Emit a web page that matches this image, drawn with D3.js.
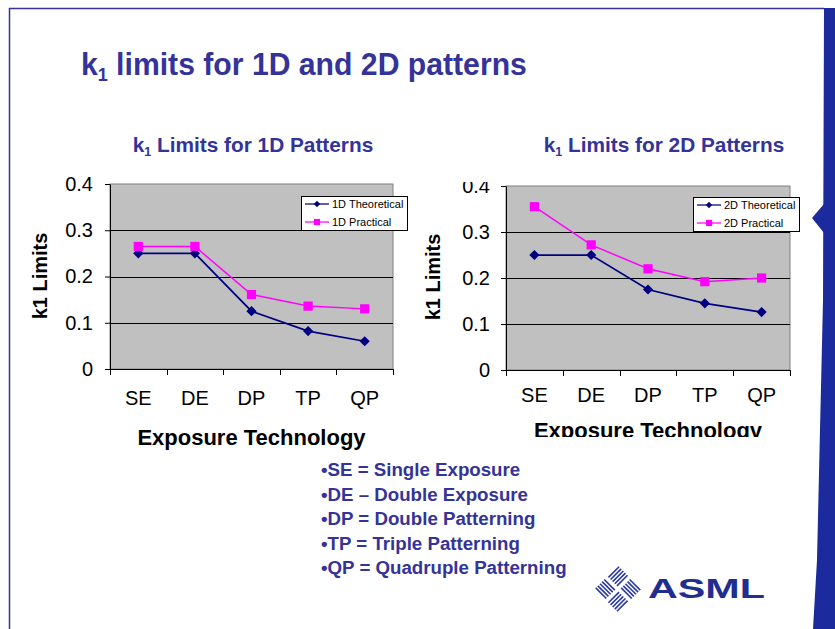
<!DOCTYPE html>
<html>
<head>
<meta charset="utf-8">
<script src="https://cdn.jsdelivr.net/npm/d3@7"></script>
<style>
  html, body { margin: 0; padding: 0; background: #fff; }
  svg { display: block; font-family: "Liberation Sans", Arial, sans-serif; }
</style>
</head>
<body>
<svg id="slide" width="835" height="629"></svg>
<script>
// ---- data ----
const categories = ["SE", "DE", "DP", "TP", "QP"];
const yTickValues = [0, 0.1, 0.2, 0.3, 0.4];
const theoretical1D = [0.25, 0.25, 0.125, 0.082, 0.06];
const practical1D = [0.265, 0.265, 0.161, 0.136, 0.13];
const theoretical2D = [0.25, 0.25, 0.175, 0.145, 0.126];
const practical2D = [0.355, 0.272, 0.22, 0.192, 0.2];
const seriesNames1D = ["1D Theoretical", "1D Practical"];
const seriesNames2D = ["2D Theoretical", "2D Practical"];
const bulletLines = [
  "\u2022SE = Single Exposure",
  "\u2022DE \u2013 Double Exposure",
  "\u2022DP = Double Patterning",
  "\u2022TP = Triple Patterning",
  "\u2022QP = Quadruple Patterning"
];

const slideBlue = "#333399";
const navy = "#000080";
const magenta = "#FF00FF";

const svg = d3.select("#slide");

// ---- slide frame ----
svg.append("line").attr("x1", 9).attr("x2", 824).attr("y1", 8.5).attr("y2", 8.5)
  .attr("stroke", slideBlue).attr("stroke-width", 1.5);
svg.append("line").attr("x1", 9.5).attr("x2", 9.5).attr("y1", 8).attr("y2", 629)
  .attr("stroke", slideBlue).attr("stroke-width", 1.5);
// right-hand band with pointer
svg.append("path")
  .attr("d", "M824,8 L835,8 L835,629 L813,629 L817,560 L823,300 Z")
  .attr("fill", "#1B2A9C");
svg.append("path")
  .attr("d", "M824,204 L812,218 L824,233 Z")
  .attr("fill", "#1B2A9C");

// ---- main title ----
const mainTitle = svg.append("text")
  .attr("transform", "translate(81,75) scale(0.943,1)")
  .attr("fill", slideBlue).attr("font-weight", "bold").attr("font-size", 32);
mainTitle.append("tspan").text("k");
mainTitle.append("tspan").attr("font-size", 19).attr("dy", 6).text("1");
mainTitle.append("tspan").attr("dy", -6).text(" limits for 1D and 2D patterns");

// ---- chart helper ----
function drawChart(cfg) {
  const root = svg.append("g");
  if (cfg.clip) {
    const id = "clip" + cfg.key;
    svg.append("clipPath").attr("id", id).append("rect")
      .attr("x", cfg.clip[0]).attr("y", cfg.clip[1])
      .attr("width", cfg.clip[2]).attr("height", cfg.clip[3]);
    root.attr("clip-path", `url(#${id})`);
  }

  const x = d3.scaleBand().domain(categories).range([cfg.left, cfg.right]);
  const y = d3.scaleLinear().domain([0, 0.4]).range([cfg.bottom, cfg.top]);

  // plot background
  root.append("rect")
    .attr("x", cfg.left).attr("y", cfg.top)
    .attr("width", cfg.right - cfg.left).attr("height", cfg.bottom - cfg.top)
    .attr("fill", "#C0C0C0").attr("stroke", "#808080").attr("stroke-width", 1);

  // gridlines
  root.append("g").selectAll("line")
    .data(yTickValues.filter(v => v > 0 && v < 0.4))
    .join("line")
    .attr("x1", cfg.left).attr("x2", cfg.right)
    .attr("y1", d => Math.round(y(d)) + 0.5).attr("y2", d => Math.round(y(d)) + 0.5)
    .attr("stroke", "#000").attr("stroke-width", 1);

  // y axis
  const yAxis = root.append("g")
    .attr("transform", `translate(${cfg.left},0)`)
    .call(d3.axisLeft(y).tickValues(yTickValues)
      .tickFormat(d => d === 0 ? "0" : d3.format(".1f")(d))
      .tickSize(5).tickSizeOuter(0).tickPadding(cfg.yPad));
  yAxis.select(".domain").attr("stroke", "#000");
  yAxis.selectAll(".tick line").attr("stroke", "#000");
  yAxis.selectAll("text").attr("font-size", 20).attr("fill", "#000")
    .attr("font-family", "Liberation Sans, Arial, sans-serif");

  // x axis: labels centred on bands, tick marks on band edges
  const xAxis = root.append("g")
    .attr("transform", `translate(0,${cfg.bottom})`)
    .call(d3.axisBottom(x).tickSize(0).tickPadding(cfg.xPad));
  xAxis.select(".domain").remove();
  xAxis.selectAll("text").attr("font-size", 20).attr("fill", "#000")
    .attr("font-family", "Liberation Sans, Arial, sans-serif");
  root.append("line")
    .attr("x1", cfg.left).attr("x2", cfg.right)
    .attr("y1", cfg.bottom + 0.5).attr("y2", cfg.bottom + 0.5)
    .attr("stroke", "#000");
  const edges = categories.map(c => x(c)).concat([x(categories[categories.length - 1]) + x.bandwidth()]);
  root.append("g").selectAll("line").data(edges).join("line")
    .attr("x1", d => Math.round(d) + 0.5).attr("x2", d => Math.round(d) + 0.5)
    .attr("y1", cfg.bottom).attr("y2", cfg.bottom + 6)
    .attr("stroke", "#000");

  // series lines
  const cx = c => x(c) + x.bandwidth() / 2;
  const line = d3.line().x((d, i) => cx(categories[i])).y(d => y(d));
  root.append("path").datum(cfg.practical).attr("d", line)
    .attr("fill", "none").attr("stroke", magenta).attr("stroke-width", 1.5);
  root.append("path").datum(cfg.theoretical).attr("d", line)
    .attr("fill", "none").attr("stroke", navy).attr("stroke-width", 1.75);

  const diamond = d3.symbol().type(d3.symbolSquare).size(52);
  const square = d3.symbol().type(d3.symbolSquare).size(85);
  root.append("g").selectAll("path").data(cfg.theoretical).join("path")
    .attr("d", diamond)
    .attr("transform", (d, i) => `translate(${cx(categories[i])},${y(d)}) rotate(45)`)
    .attr("fill", navy);
  root.append("g").selectAll("path").data(cfg.practical).join("path")
    .attr("d", square)
    .attr("transform", (d, i) => `translate(${cx(categories[i])},${y(d)})`)
    .attr("fill", magenta);

  // legend
  const lg = root.append("g").attr("transform", `translate(${cfg.legend[0]},${cfg.legend[1]})`);
  lg.append("rect").attr("x", 0.5).attr("y", 0.5).attr("width", 106).attr("height", 34)
    .attr("fill", "#fff").attr("stroke", "#000").attr("stroke-width", 1);
  const rows = [
    { name: cfg.names[0], color: navy, sym: d3.symbol().type(d3.symbolSquare).size(20), rot: 45 },
    { name: cfg.names[1], color: magenta, sym: d3.symbol().type(d3.symbolSquare).size(38), rot: 0 }
  ];
  rows.forEach((r, i) => {
    const ry = 8 + i * 18;
    lg.append("line").attr("x1", 4).attr("x2", 28).attr("y1", ry).attr("y2", ry)
      .attr("stroke", r.color).attr("stroke-width", 1.25);
    lg.append("path").attr("d", r.sym).attr("fill", r.color)
      .attr("transform", `translate(16,${ry}) rotate(${r.rot})`);
    lg.append("text").attr("x", 31).attr("y", ry + 4)
      .attr("font-size", 11).attr("fill", "#000").text(r.name);
  });

  // axis titles
  root.append("text")
    .attr("x", (cfg.left + cfg.right) / 2).attr("y", cfg.xTitleY)
    .attr("text-anchor", "middle").attr("font-size", 22).attr("font-weight", "bold")
    .attr("fill", "#000").text("Exposure Technology");
  root.append("text")
    .attr("transform", `translate(${cfg.yTitleX},${cfg.yTitleY}) rotate(-90)`)
    .attr("text-anchor", "middle").attr("font-size", 20).attr("font-weight", "bold")
    .attr("fill", "#000").text("k1 Limits");

  // chart title (outside the clipped region)
  const t = svg.append("text")
    .attr("x", cfg.titleX).attr("y", 152)
    .attr("text-anchor", "middle").attr("font-size", 20.8).attr("font-weight", "bold")
    .attr("fill", slideBlue);
  t.append("tspan").text("k");
  t.append("tspan").attr("font-size", 12.5).attr("dy", 4).text("1");
  t.append("tspan").attr("dy", -4).text(" Limits for " + cfg.key + " Patterns");
}

drawChart({
  key: "1D", left: 110, right: 393, top: 184, bottom: 369,
  yPad: 12, xPad: 22, theoretical: theoretical1D, practical: practical1D,
  names: seriesNames1D, legend: [301, 196],
  xTitleY: 445, yTitleX: 47, yTitleY: 276, titleX: 253,
});
drawChart({
  key: "2D", left: 506, right: 790, top: 186, bottom: 370,
  yPad: 11, xPad: 18, theoretical: theoretical2D, practical: practical2D,
  names: seriesNames2D, legend: [693, 197],
  xTitleY: 438, yTitleX: 440, yTitleY: 277, titleX: 664,
  clip: [410, 182, 405, 255]
});

// ---- abbreviation list ----
svg.append("g").selectAll("text").data(bulletLines).join("text")
  .attr("x", 321)
  .attr("y", (d, i) => 476 + i * 24.5)
  .attr("font-size", 18.7).attr("font-weight", "bold").attr("fill", slideBlue)
  .text(d => d);

// ---- ASML mark ----
const logo = svg.append("g").attr("transform", "translate(618,589) rotate(45)");
const q = 15, gap = 1.5, nLines = 5;
[[-1, -1, "v"], [1, -1, "h"], [1, 1, "v"], [-1, 1, "h"]].forEach(([sx, sy, dir]) => {
  const x0 = sx < 0 ? -q - gap : gap;
  const y0 = sy < 0 ? -q - gap : gap;
  for (let k = 0; k < nLines; k++) {
    const o = (k + 0.5) * q / nLines;
    if (dir === "v") {
      logo.append("line").attr("x1", x0 + o).attr("x2", x0 + o).attr("y1", y0).attr("y2", y0 + q)
        .attr("stroke", "#2B3A9E").attr("stroke-width", 1.6);
    } else {
      logo.append("line").attr("y1", y0 + o).attr("y2", y0 + o).attr("x1", x0).attr("x2", x0 + q)
        .attr("stroke", "#2B3A9E").attr("stroke-width", 1.6);
    }
  }
});
svg.append("text").attr("x", 648).attr("y", 598)
  .attr("font-size", 27).attr("font-weight", 900).attr("fill", "#1F2E8F")
  .attr("textLength", 117).attr("lengthAdjust", "spacingAndGlyphs")
  .text("ASML");
</script>
</body>
</html>
